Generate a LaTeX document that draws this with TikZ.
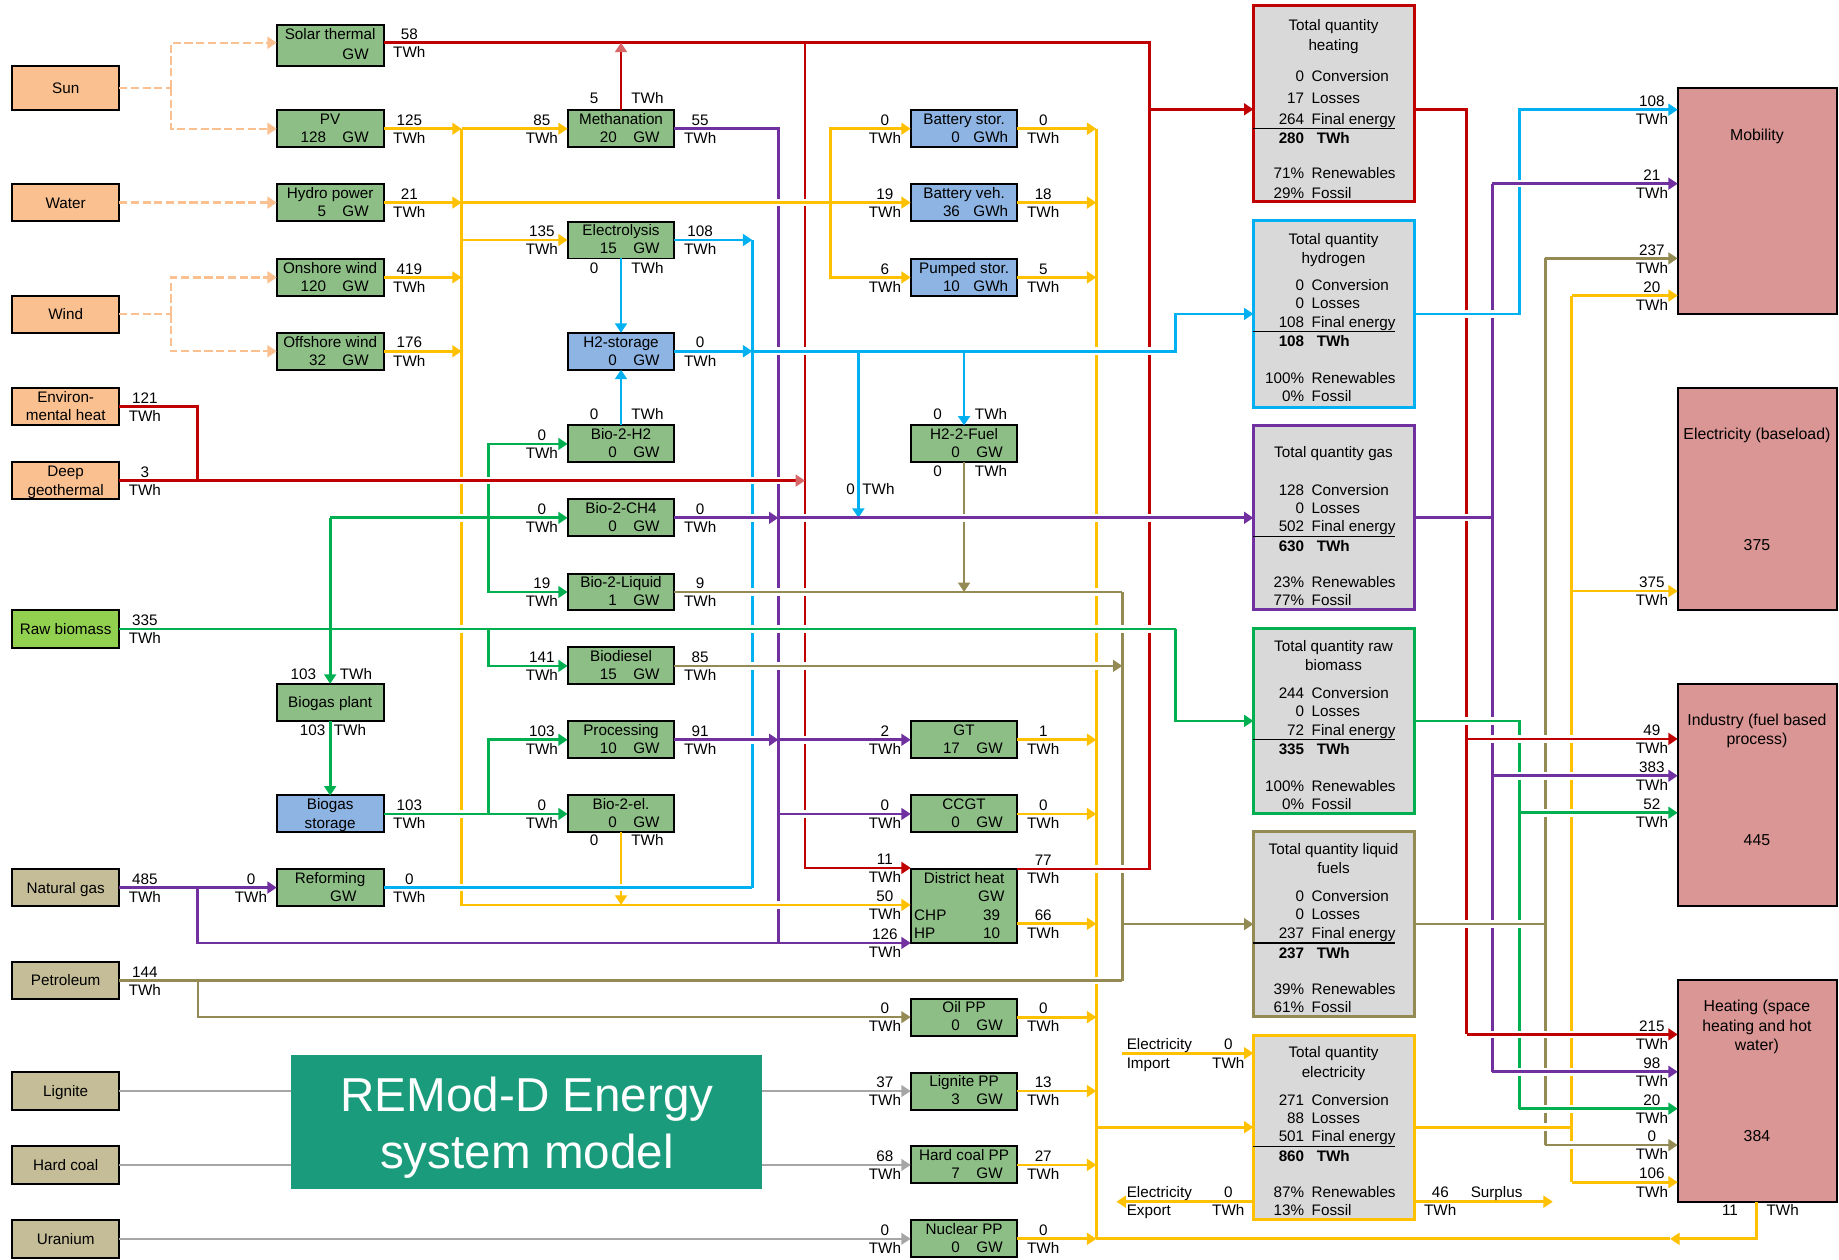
\documentclass[tikz,border=0pt]{standalone}
\usepackage{fontspec}
\setmainfont{Liberation Sans}
\usetikzlibrary{arrows.meta}
\definecolor{cRed}{HTML}{C00000}
\definecolor{cYel}{HTML}{FFC000}
\definecolor{cBlu}{HTML}{00B0F0}
\definecolor{cPur}{HTML}{7030A0}
\definecolor{cGrn}{HTML}{00B050}
\definecolor{cOli}{HTML}{948A54}
\definecolor{cGry}{HTML}{A6A6A6}
\definecolor{cSun}{HTML}{FAC090}
\definecolor{fSrc}{HTML}{FAC090}
\definecolor{fBio}{HTML}{92D050}
\definecolor{fProc}{HTML}{8DBE85}
\definecolor{fSto}{HTML}{8DB4E2}
\definecolor{fFos}{HTML}{C4BD97}
\definecolor{fTot}{HTML}{D9D9D9}
\definecolor{fDem}{HTML}{DA9694}
\definecolor{fTeal}{HTML}{1A9C7C}
\tikzset{
  tx/.style={anchor=base,inner sep=0pt,outer sep=0pt},
  bxbase/.style={draw=black,line width=1.7pt,inner sep=0pt,outer sep=0pt},
  srcB/.style={bxbase,fill=fSrc},
  bioB/.style={bxbase,fill=fBio},
  fosB/.style={bxbase,fill=fFos},
  procB/.style={bxbase,fill=fProc},
  stoB/.style={bxbase,fill=fSto},
  totB/.style={bxbase,fill=fTot,line width=2.6pt},
  demB/.style={bxbase,fill=fDem,line width=1.9pt},
  arw/.style={-{Triangle[length=8pt,width=10pt]}},
  arwL/.style={-{Triangle[length=8pt,width=10pt,color=cRed!60]}},
  Lred/.style={draw=cRed,line width=2.3pt},
  Lyel/.style={draw=cYel,line width=2.3pt},
  Lblu/.style={draw=cBlu,line width=2.3pt},
  Lpur/.style={draw=cPur,line width=2.3pt},
  Lgrn/.style={draw=cGrn,line width=2.3pt},
  Lgrnt/.style={draw=cGrn,line width=1.7pt},
  Loli/.style={draw=cOli,line width=2.3pt},
  Lolit/.style={draw=cOli,line width=1.8pt},
  Lgry/.style={draw=cGry,line width=1.7pt},
  Lsun/.style={draw=cSun,line width=2pt,dash pattern=on 7pt off 3pt},
}
\newcommand\mybox[6]{\node[#2,minimum width={(#5)-(#3)},minimum height={(#6)-(#4)}] (#1) at ({((#3)+(#5))/2},{((#4)+(#6))/2}) {};}
\newcommand\procbox[8]{%
  \mybox{#1}{#2}{#3}{#4}{#3+91}{#4+31.5}%
  \node[tx] at ({#3+45.5},{#4+12.2}) {#5};%
  \node[tx,anchor=base east] at ({#3+42},{#4+27.5}) {#6};%
  \node[tx,anchor=base west] at ({#3+#8},{#4+27.5}) {#7};}
\newcommand\flab[3]{\node[tx] at (#1,{#2-2.85}) {#3};\node[tx] at (#1,{#2+12.65}) {TWh};}
\newcommand\ctext[3]{\node[tx] at (#1,{#2+4.65}) {#3};}
\newcommand\bridge[4]{\draw[white,line width=6.5pt] (#2,#4) -- (#3,#4); \draw[#1] (#2,#4) -- (#3,#4);}
\newcommand\totrows[8]{%
  \ifnum#8=1 \def\tbA{59.65}\def\tbB{75.35}\def\tbC{91.15}\def\tbD{95}\def\tbE{107.85}\def\tbF{138.65}\def\tbG{154.15}%
  \else \def\tbA{64.65}\def\tbB{83.15}\def\tbC{101.35}\def\tbD{104.6}\def\tbE{117.65}\def\tbF{147.65}\def\tbG{164.15}\fi
  \node[tx,anchor=base east] at (1112,{#1+\tbA}) {#2};
  \node[tx,anchor=base west] at (1118.4,{#1+\tbA}) {Conversion};
  \node[tx,anchor=base east] at (1112,{#1+\tbB}) {#3};
  \node[tx,anchor=base west] at (1118.4,{#1+\tbB}) {Losses};
  \node[tx,anchor=base east] at (1112,{#1+\tbC}) {#4};
  \node[tx,anchor=base west] at (1118.4,{#1+\tbC}) {Final energy};
  \draw[line width=0.9pt] (1068.7,{#1+\tbD}) -- (1189.5,{#1+\tbD});
  \node[tx,anchor=base east] at (1112,{#1+\tbE}) {\bfseries #5};
  \node[tx,anchor=base west] at (1122.7,{#1+\tbE}) {\bfseries TWh};
  \node[tx,anchor=base east] at (1112,{#1+\tbF}) {#6\%};
  \node[tx,anchor=base west] at (1118.4,{#1+\tbF}) {Renewables};
  \node[tx,anchor=base east] at (1112,{#1+\tbG}) {#7\%};
  \node[tx,anchor=base west] at (1118.4,{#1+\tbG}) {Fossil};}
\begin{document}
\begin{tikzpicture}[x=1pt,y=-1pt,font=\fontsize{13}{15.6}\selectfont]
\useasboundingbox (0,0) rectangle (1568,1074);
\fill[white] (0,0) rectangle (1568,1074);
% ---------- source boxes
\mybox{sun}{srcB}{10.5}{56}{101.5}{94}
\mybox{water}{srcB}{10.5}{157}{101.5}{188.5}
\mybox{wind}{srcB}{10.5}{252}{101.5}{284}
\mybox{env}{srcB}{10.5}{331}{101.5}{362}
\mybox{geo}{srcB}{10.5}{394}{101.5}{425.5}
\mybox{rb}{bioB}{10.5}{520}{101.5}{552.5}
\mybox{ng}{fosB}{10.5}{741}{101.5}{772.5}
\mybox{pet}{fosB}{10.5}{820}{101.5}{852}
\mybox{lig}{fosB}{10.5}{914.25}{101.5}{946.25}
\mybox{hc}{fosB}{10.5}{977.25}{101.5}{1009.25}
\mybox{ura}{fosB}{10.5}{1040.25}{101.5}{1072.25}
\ctext{56}{75}{Sun}
\ctext{56}{173}{Water}
\ctext{56}{268}{Wind}
\ctext{56}{338.3}{Environ-}
\ctext{56}{354}{mental heat}
\ctext{56}{401.6}{Deep}
\ctext{56}{417.8}{geothermal}
\ctext{56}{536.3}{Raw biomass}
\ctext{56}{757}{Natural gas}
\ctext{56}{836}{Petroleum}
\ctext{56}{930.3}{Lignite}
\ctext{56}{993.3}{Hard coal}
\ctext{56}{1056.3}{Uranium}
% ---------- column 2
\mybox{solar}{procB}{236}{21}{327}{56.5}
\node[tx] at (281.5,33.3) {Solar thermal};
\node[tx,anchor=base west] at (292,50.5) {GW};
\procbox{pv}{procB}{236}{94}{PV}{128}{GW}{56}
\procbox{hydro}{procB}{236}{157}{Hydro power}{5}{GW}{56}
\procbox{onsh}{procB}{236}{220.75}{Onshore wind}{120}{GW}{56}
\procbox{offsh}{procB}{236}{283.75}{Offshore wind}{32}{GW}{56}
\mybox{bgp}{procB}{236}{583}{327}{615}
\ctext{281.5}{599}{Biogas plant}
\mybox{bgs}{stoB}{236}{678.25}{327}{709.75}
\ctext{281.5}{685.8}{Biogas}
\ctext{281.5}{702}{storage}
\mybox{ref}{procB}{236}{741}{327}{772.5}
\ctext{281.5}{748.9}{Reforming}
\ctext{292.7}{763.9}{GW}
% ---------- column 3
\procbox{meth}{procB}{484}{94}{Methanation}{20}{GW}{56}
\procbox{elec}{procB}{484}{188.9}{Electrolysis}{15}{GW}{56}
\procbox{h2s}{stoB}{484}{283.75}{H2-storage}{0}{GW}{56}
\procbox{b2h2}{procB}{484}{362.75}{Bio-2-H2}{0}{GW}{56}
\procbox{b2ch4}{procB}{484}{425.75}{Bio-2-CH4}{0}{GW}{56}
\procbox{b2liq}{procB}{484}{489}{Bio-2-Liquid}{1}{GW}{56}
\procbox{biod}{procB}{484}{552}{Biodiesel}{15}{GW}{56}
\procbox{proc}{procB}{484}{615}{Processing}{10}{GW}{56}
\procbox{bioel}{procB}{484}{678.25}{Bio-2-el.}{0}{GW}{56}
% ---------- column 4
\procbox{bats}{stoB}{776.5}{94}{Battery stor.}{0}{GWh}{53.5}
\procbox{batv}{stoB}{776.5}{157}{Battery veh.}{36}{GWh}{53.5}
\procbox{pump}{stoB}{776.5}{220.75}{Pumped stor.}{10}{GWh}{53.5}
\procbox{h2f}{procB}{776.5}{362.75}{H2-2-Fuel}{0}{GW}{56}
\procbox{gt}{procB}{776.5}{615}{GT}{17}{GW}{56}
\procbox{ccgt}{procB}{776.5}{678.25}{CCGT}{0}{GW}{56}
\mybox{dh}{procB}{776.5}{741}{867.5}{804.3}
\ctext{822}{748.4}{District heat}
\node[tx,anchor=base east] at (856.4,768.4) {GW};
\node[tx,anchor=base west] at (779.5,784.9) {CHP};
\node[tx,anchor=base east] at (852.7,784.9) {39};
\node[tx,anchor=base west] at (779.5,800.2) {HP};
\node[tx,anchor=base east] at (852.7,800.2) {10};
\procbox{oil}{procB}{776.5}{851.5}{Oil PP}{0}{GW}{56}
\procbox{ligpp}{procB}{776.5}{914.5}{Lignite PP}{3}{GW}{56}
\procbox{hcpp}{procB}{776.5}{977.5}{Hard coal PP}{7}{GW}{56}
\procbox{nuc}{procB}{776.5}{1040.5}{Nuclear PP}{0}{GW}{56}
% ---------- total boxes
\mybox{theat}{totB,draw=cRed}{1068.7}{4.8}{1205.7}{172}
\mybox{thyd}{totB,draw=cBlu}{1068.7}{188}{1205.7}{347.3}
\mybox{tgas}{totB,draw=cPur}{1068.7}{362.4}{1205.7}{520}
\mybox{trb}{totB,draw=cGrn}{1068.7}{535.8}{1205.7}{693.5}
\mybox{tliq}{totB,draw=cOli}{1068.7}{709}{1205.7}{866.9}
\mybox{telec}{totB,draw=cYel}{1068.7}{882.5}{1205.7}{1039.7}
\ctext{1137}{21.3}{Total quantity}\ctext{1137}{38.4}{heating}
\totrows{4.8}{0}{17}{264}{280}{71}{29}{2}
\ctext{1137}{203.8}{Total quantity}\ctext{1137}{220.3}{hydrogen}
\totrows{188}{0}{0}{108}{108}{100}{0}{1}
\ctext{1137}{385.7}{Total quantity gas}
\totrows{362.4}{128}{0}{502}{630}{23}{77}{1}
\ctext{1137}{550.8}{Total quantity raw}\ctext{1137}{567}{biomass}
\totrows{535.8}{244}{0}{72}{335}{100}{0}{1}
\ctext{1137}{724}{Total quantity liquid}\ctext{1137}{740.4}{fuels}
\totrows{709}{0}{0}{237}{237}{39}{61}{1}
\ctext{1137}{897}{Total quantity}\ctext{1137}{914}{electricity}
\totrows{882.5}{271}{88}{501}{860}{87}{13}{1}
% ---------- demand boxes
\mybox{mob}{demB}{1430.5}{74.8}{1566}{267.7}
\mybox{base}{demB}{1430.5}{331}{1566}{520}
\mybox{ind}{demB}{1430.5}{583.5}{1566}{772.5}
\mybox{heat}{demB}{1430.5}{835.6}{1566}{1024.6}
\begin{scope}[font=\fontsize{13.5}{16}\selectfont]
\ctext{1498}{115}{Mobility}
\ctext{1498}{370}{Electricity (baseload)}
\ctext{1498}{465}{375}
\ctext{1498}{614}{Industry (fuel based}
\ctext{1498}{630.5}{process)}
\ctext{1498}{716.5}{445}
\ctext{1498}{858}{Heating (space}
\ctext{1498}{875}{heating and hot}
\ctext{1498}{891}{water)}
\ctext{1498}{968.6}{384}
\end{scope}
% ---------- helper coordinates
\coordinate (yb1) at (393.6,0);
\coordinate (ysb) at (708.3,0);
\coordinate (yb2) at (934.8,0);
\coordinate (yb3) at (1340,0);
\coordinate (rv1) at (686.4,0);
\coordinate (rv2) at (980,0);
\coordinate (rv3) at (1250.6,0);
\coordinate (bv1) at (641.5,0);
\coordinate (bv2) at (731.9,0);
\coordinate (bv3) at (1002.5,0);
\coordinate (bv4) at (1295.5,0);
\coordinate (pv1) at (663.7,0);
\coordinate (pv2) at (1272.5,0);
\coordinate (gv1) at (416.4,0);
\coordinate (gv2) at (1002.5,0);
\coordinate (gv3) at (1295.5,0);
\coordinate (ov1) at (957,0);
\coordinate (ov2) at (1317.7,0);
\coordinate (jx) at (168.6,0);
\coordinate (sj) at (145.8,0);
\coordinate (stL) at (236,36.4);
\coordinate (stR) at (327,36.4);
\coordinate (dhR) at (776.5,740);
\coordinate (dhY) at (776.5,771.5);
\coordinate (dhP) at (776.5,804);
\coordinate (dhOr) at (867.5,741);
\coordinate (dhOy) at (867.5,787.6);
\coordinate (thIn) at (1068.7,93.2);
\coordinate (thOut) at (1205.7,93.2);
\coordinate (mobB) at (1430.5,93.5);
\coordinate (mobP) at (1430.5,156.6);
\coordinate (mobO) at (1430.5,220.3);
\coordinate (mobY) at (1430.5,252);
\coordinate (baseY) at (1430.5,504);
\coordinate (indR) at (1430.5,630);
\coordinate (indP) at (1430.5,661.4);
\coordinate (indG) at (1430.5,693);
\coordinate (htR) at (1430.5,882);
\coordinate (htP) at (1430.5,913.8);
\coordinate (htG) at (1430.5,945.3);
\coordinate (htO) at (1430.5,976.3);
\coordinate (htY) at (1430.5,1008);
\coordinate (htB) at (1497.8,1024.6);
\coordinate (retA) at (1424,1056.25);
\coordinate (impL) at (957,898);
\coordinate (expL) at (952,1024.6);
\coordinate (surR) at (1324,1024.6);
% ---------- sun / water / wind
\draw[Lsun] (sun.east) -- (sj |- sun.east);
\draw[Lsun,arw] (sj |- sun.east) |- (stL);
\draw[Lsun,arw] (sj |- sun.east) |- (pv.west);
\draw[Lsun,arw] (water.east) -- (hydro.west);
\draw[Lsun] (wind.east) -- (sj |- wind.east);
\draw[Lsun,arw] (sj |- wind.east) |- (onsh.west);
\draw[Lsun,arw] (sj |- wind.east) |- (offsh.west);
% ---------- gray
\draw[Lgry,arw] (lig.east) -- (ligpp.west);
\draw[Lgry,arw] (hc.east) -- (hcpp.west);
\draw[Lgry,arw] (ura.east) -- (nuc.west);
% ---------- red
\draw[Lred] (stR) -| (rv2 |- dhOr) -- (dhOr);
\draw[Lred,arwL] (meth.north) -- (meth.north |- stR);
\draw[Lred,arw] (rv1 |- stR) |- (dhR);
\draw[Lred] (env.east) -| (jx |- geo.east);
\draw[Lred,arwL] (geo.east) -- (rv1 |- geo.east);
\draw[Lred,arw] (rv2 |- thIn) -- (thIn);
\draw[Lred] (thOut) -| (rv3 |- htR);
\draw[Lred,arw] (rv3 |- indR) -- (indR);
\draw[Lred,arw] (rv3 |- htR) -- (htR);
% ---------- yellow
\draw[Lyel,arw] (yb1 |- pv.east) |- (dhY);
\draw[Lyel,arw] (pv.east) -- (yb1 |- pv.east);
\draw[Lyel,arw] (yb1 |- pv.east) -- (meth.west);
\draw[Lyel,arw] (hydro.east) -- (yb1 |- hydro.east);
\draw[Lyel,arw] (yb1 |- hydro.east) -- (batv.west);
\draw[Lyel,arw] (onsh.east) -- (yb1 |- onsh.east);
\draw[Lyel,arw] (offsh.east) -- (yb1 |- offsh.east);
\draw[Lyel,arw] (yb1 |- elec.west) -- (elec.west);
\draw[Lyel,arw] (ysb |- hydro.east) |- (bats.west);
\draw[Lyel,arw] (ysb |- hydro.east) |- (pump.west);
\draw[Lyel,arw] (bioel.south) -- (bioel.south |- dhY);
\draw[Lyel] (yb2 |- bats.east) -- (yb2 |- nuc.east);
\foreach \n in {bats,batv,pump,gt,ccgt,oil,ligpp,hcpp,nuc}
  \draw[Lyel,arw] (\n.east) -- (yb2 |- \n.east);
\draw[Lyel,arw] (dhOy) -- (yb2 |- dhOy);
\draw[Lyel,arw] (yb2 |- telec.west) -- (telec.west);
\draw[Lyel,arw] (impL) -- (telec.west |- impL);
\draw[Lyel,arw] (telec.west |- expL) -- (expL);
\draw[Lyel,arw] (telec.east |- surR) -- (surR);
\draw[Lyel] (telec.east) -- (yb3 |- telec.east);
\draw[Lyel] (yb3 |- mobY) -- (yb3 |- htY);
\draw[Lyel,arw] (yb3 |- mobY) -- (mobY);
\draw[Lyel,arw] (yb3 |- baseY) -- (baseY);
\draw[Lyel,arw] (yb3 |- htY) -- (htY);
\draw[Lyel,arw] (htB) |- (retA);
\draw[Lyel] (retA) -- (yb2 |- nuc.east);
% ---------- blue
\draw[Lblu,arw] (elec.east) -- (bv1 |- elec.east);
\draw[Lblu] (bv1 |- elec.east) -- (bv1 |- ref.east);
\draw[Lblu] (ref.east) -- (bv1 |- ref.east);
\draw[Lblu,arw] (elec.south) -- (h2s.north);
\draw[Lblu,arw] (b2h2.north) -- (h2s.south);
\draw[Lblu,arw] (h2s.east) -- (bv1 |- h2s.east);
\draw[Lblu,arw] (bv1 |- h2s.east) -- (bv3 |- h2s.east) |- (thyd.west);
\draw[Lblu,arw] (bv2 |- h2s.east) -- (bv2 |- b2ch4.east);
\draw[Lblu,arw] (h2f.north |- h2s.east) -- (h2f.north);
\draw[Lblu,arw] (thyd.east) -| (bv4 |- mobB) -- (mobB);
% ---------- purple
\draw[Lpur] (meth.east) -| (pv1 |- dhP);
\draw[Lpur,arw] (b2ch4.east) -- (pv1 |- b2ch4.east);
\draw[Lpur,arw] (pv1 |- b2ch4.east) -- (tgas.west |- b2ch4.east);
\draw[Lpur,arw] (proc.east) -- (pv1 |- proc.east);
\draw[Lpur,arw] (pv1 |- proc.east) -- (gt.west);
\draw[Lpur,arw] (pv1 |- ccgt.west) -- (ccgt.west);
\draw[Lpur,arw] (ng.east) -- (ref.west);
\draw[Lpur,arw] (jx |- ng.east) |- (dhP);
\draw[Lpur] (tgas.east) -- (pv2 |- tgas.east);
\draw[Lpur] (pv2 |- mobP) -- (pv2 |- htP);
\draw[Lpur,arw] (pv2 |- mobP) -- (mobP);
\draw[Lpur,arw] (pv2 |- indP) -- (indP);
\draw[Lpur,arw] (pv2 |- htP) -- (htP);
% ---------- green
\draw[Lgrnt] (rb.east) -- (gv2 |- rb.east);
\draw[Lgrn,arw] (gv2 |- rb.east) |- (trb.west);
\draw[Lgrn,arw] (bgp.north |- b2ch4.west) -- (bgp.north);
\draw[Lgrn,arw] (bgp.north |- b2ch4.west) -- (b2ch4.west);
\draw[Lgrn,arw] (gv1 |- b2ch4.west) |- (b2h2.west);
\draw[Lgrn,arw] (gv1 |- b2ch4.west) |- (b2liq.west);
\draw[Lgrn,arw] (gv1 |- rb.east) |- (biod.west);
\draw[Lgrn,arw] (bgp.south) -- (bgs.north);
\draw[Lgrn,arw] (bgs.east) -- (bioel.west);
\draw[Lgrn,arw] (gv1 |- bgs.east) |- (proc.west);
\draw[Lgrn] (trb.east) -| (gv3 |- htG);
\draw[Lgrn,arw] (gv3 |- indG) -- (indG);
\draw[Lgrn,arw] (gv3 |- htG) -- (htG);
% ---------- olive
\draw[Lolit] (b2liq.east) -- (ov1 |- b2liq.east);
\draw[Lolit,arw] (biod.east) -- (ov1 |- biod.east);
\draw[Loli,arw] (h2f.south) -- (h2f.south |- b2liq.east);
\draw[Lolit] (pet.east) -- (ov1 |- pet.east);
\draw[Loli] (ov1 |- pet.east) -- (ov1 |- b2liq.east);
\draw[Lolit,arw] (jx |- pet.east) |- (oil.west);
\draw[Loli,arw] (ov1 |- tliq.west) -- (tliq.west);
\draw[Loli] (tliq.east) -- (ov2 |- tliq.east);
\draw[Loli] (ov2 |- mobO) -- (ov2 |- htO);
\draw[Loli,arw] (ov2 |- mobO) -- (mobO);
\draw[Loli,arw] (ov2 |- htO) -- (htO);
% ---------- line jumps
\bridge{Lpur}{1285}{1306}{156.6}
\bridge{Lyel}{650}{698}{172.75}
\bridge{Lblu}{1240}{1285}{267.65}
\bridge{Lblu}{652}{698}{299.5}
\bridge{Lblu}{925}{990}{299.5}
\bridge{Lred}{383}{426}{409.75}
\bridge{Lred}{631}{674}{409.75}
\bridge{Lgrn}{383}{404}{441.5}
\bridge{Lpur}{612}{651}{441.5}
\bridge{Lpur}{674}{700}{441.5}
\bridge{Lpur}{810}{832}{441.5}
\bridge{Lpur}{925}{990}{441.5}
\bridge{Lpur}{1240}{1262}{441.2}
\bridge{Lolit}{630}{698}{504.75}
\bridge{Lolit}{925}{946}{504.75}
\bridge{Lgrnt}{383}{404}{536.25}
\bridge{Lgrnt}{630}{698}{536.25}
\bridge{Lgrnt}{925}{990}{536.25}
\bridge{Lolit}{630}{698}{567.75}
\bridge{Lolit}{925}{944}{567.75}
\bridge{Lgrn}{1240}{1285}{614.65}
\bridge{Lpur}{630}{652}{630.75}
\bridge{Lpur}{674}{698}{630.75}
\bridge{Lred}{1262}{1350}{630}
\bridge{Lpur}{1285}{1350}{661.4}
\bridge{Lgrn}{383}{404}{694}
\bridge{Lpur}{676}{698}{694}
\bridge{Lgrn}{1307}{1350}{693}
\bridge{Lred}{925}{968}{741}
\bridge{Lblu}{383}{404}{756.75}
\bridge{Lblu}{518}{540}{756.75}
\bridge{Lyel}{652}{675}{771.5}
\bridge{Loli}{1240}{1307}{787.95}
\bridge{Lolit}{925}{946}{836}
\bridge{Lred}{1262}{1350}{882}
\bridge{Lpur}{1285}{1350}{913.8}
\bridge{Lgrn}{1307}{1350}{945.3}
\bridge{Lyel}{1307}{1330}{961.1}
\bridge{Loli}{1328}{1350}{976.3}
% ---------- title box
\mybox{remod}{fill=fTeal,draw=none,inner sep=0pt,outer sep=0pt}{248.4}{899.6}{649.7}{1013.5}
\node[tx,text=white,font=\fontsize{40.6}{48}\selectfont] at (449.3,948) {REMod-D Energy};
\node[tx,text=white,font=\fontsize{40.6}{48}\selectfont] at (449.3,996.2) {system model};
% ---------- flow labels
\flab{123.5}{346.5}{121}
\flab{123.5}{409.75}{3}
\flab{123.5}{536.25}{335}
\flab{123.5}{756.75}{485}
\flab{123.5}{836}{144}
\flab{349}{36.4}{58}
\flab{349}{109.75}{125}
\flab{349}{172.75}{21}
\flab{349}{236.5}{419}
\flab{349}{299.5}{176}
\flab{349}{694}{103}
\flab{349}{756.75}{0}
\flab{214}{756.75}{0}
\flab{462}{109.75}{85}
\flab{462}{204.65}{135}
\flab{462}{378.5}{0}
\flab{462}{441.5}{0}
\flab{462}{504.75}{19}
\flab{462}{567.75}{141}
\flab{462}{630.75}{103}
\flab{462}{694}{0}
\flab{597}{109.75}{55}
\flab{597}{204.65}{108}
\flab{597}{299.5}{0}
\flab{597}{441.5}{0}
\flab{597}{504.75}{9}
\flab{597}{567.75}{85}
\flab{597}{630.75}{91}
\flab{754.5}{109.75}{0}
\flab{754.5}{172.75}{19}
\flab{754.5}{236.5}{6}
\flab{754.5}{630.75}{2}
\flab{754.5}{694}{0}
\flab{754.5}{740}{11}
\flab{754.5}{771.5}{50}
\flab{754.5}{804}{126}
\flab{754.5}{867.25}{0}
\flab{754.5}{930.25}{37}
\flab{754.5}{993.25}{68}
\flab{754.5}{1056.25}{0}
\flab{889.5}{109.75}{0}
\flab{889.5}{172.75}{18}
\flab{889.5}{236.5}{5}
\flab{889.5}{630.75}{1}
\flab{889.5}{694}{0}
\flab{889.5}{741}{77}
\flab{889.5}{787.6}{66}
\flab{889.5}{867.25}{0}
\flab{889.5}{930.25}{13}
\flab{889.5}{993.25}{27}
\flab{889.5}{1056.25}{0}
\flab{1408.5}{93.5}{108}
\flab{1408.5}{156.6}{21}
\flab{1408.5}{220.3}{237}
\flab{1408.5}{252}{20}
\flab{1408.5}{504}{375}
\flab{1408.5}{630}{49}
\flab{1408.5}{661.4}{383}
\flab{1408.5}{693}{52}
\flab{1408.5}{882}{215}
\flab{1408.5}{913.8}{98}
\flab{1408.5}{945.3}{20}
\flab{1408.5}{976.3}{0}
\flab{1408.5}{1008}{106}
\ctext{506.5}{83.3}{5}\ctext{552}{83.3}{TWh}
\ctext{506.5}{228.5}{0}\ctext{552}{228.5}{TWh}
\ctext{506.5}{353.3}{0}\ctext{552}{353.3}{TWh}
\ctext{506.5}{716.5}{0}\ctext{552}{716.5}{TWh}
\ctext{799.5}{353.3}{0}\ctext{845}{353.3}{TWh}
\ctext{799.5}{401.6}{0}\ctext{845}{401.6}{TWh}
\ctext{725.3}{417}{0}\ctext{749}{417}{TWh}
\ctext{258.6}{574.7}{103}\ctext{303.5}{574.7}{TWh}
\ctext{266.6}{622.4}{103}\ctext{298.4}{622.4}{TWh}
\ctext{1475}{1031.7}{11}\ctext{1520}{1031.7}{TWh}
\node[tx,anchor=base west] at (960.7,894.9) {Electricity};
\node[tx,anchor=base west] at (960.7,911.4) {Import};
\ctext{1047.3}{890.2}{0}\ctext{1047.3}{906.7}{TWh}
\node[tx,anchor=base west] at (960.7,1021.4) {Electricity};
\node[tx,anchor=base west] at (960.7,1036.4) {Export};
\ctext{1047.3}{1016.7}{0}\ctext{1047.3}{1031.7}{TWh}
\ctext{1228}{1016.7}{46}\ctext{1228}{1031.7}{TWh}
\node[tx,anchor=base west] at (1254,1021.4) {Surplus};
\end{tikzpicture}
\end{document}
